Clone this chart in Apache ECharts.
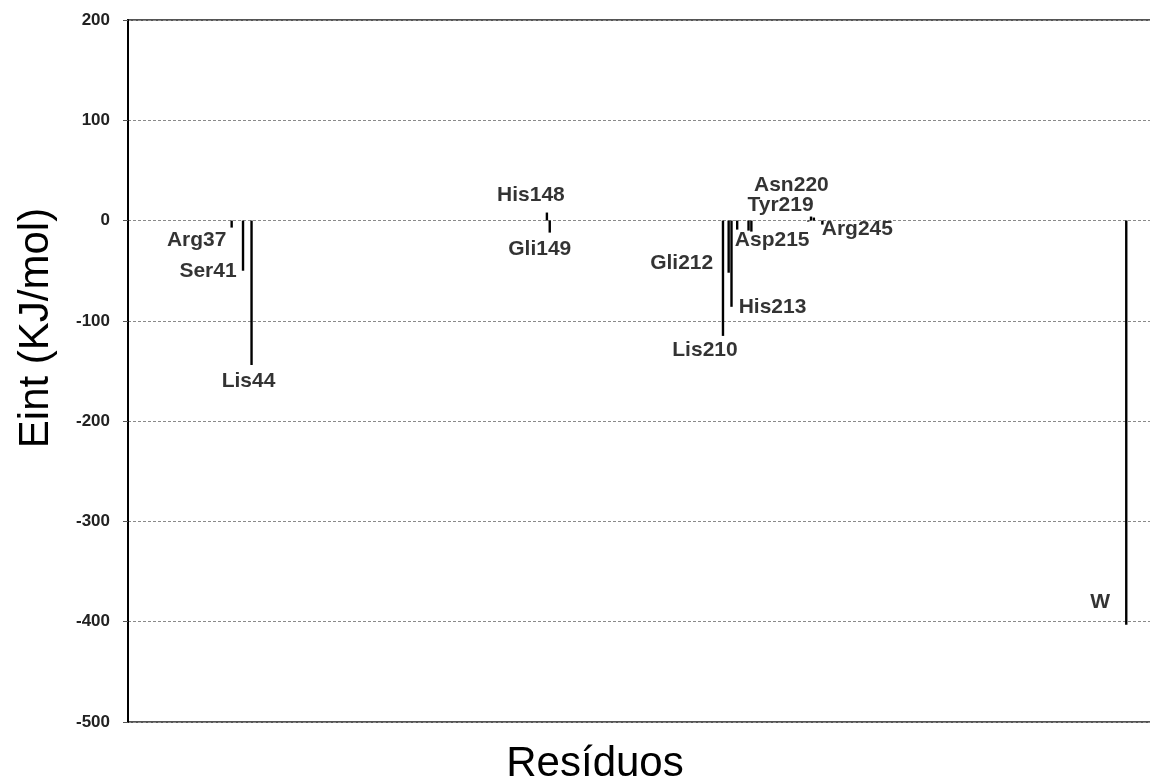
<!DOCTYPE html>
<html>
<head>
<meta charset="utf-8">
<script src="https://cdn.jsdelivr.net/npm/echarts@6/dist/echarts.min.js"></script>
<style>
html,body{margin:0;padding:0;background:#fff;overflow:hidden;}
#chart{width:1200px;height:782px;}
</style>
</head>
<body>
<div id="chart"></div>
<script>
// ---- data ----
const residueLabels = ['Arg37','Ser41','Lis44','His148','Gli149','Lis210','Gli212','His213','Asp215','Tyr219','Asn220','Arg245','W'];
const residuePositions = [37, 41, 44, 148, 149, 210, 212, 213, 215, 219, 220, 245, 352];
const residueEnergies = [-7, -50, -144, 8, -12, -115, -52, -86, -9, -10, -11, -4, -403];
const minorPositions = [240, 241, 242];
const minorEnergies = [-1, 4, 3];
const categoryCount = 365;
const yTicks = [200, 100, 0, -100, -200, -300, -400, -500];

// ---- styles (label offsets relative to bar tips) ----
const labelOffsets = [
  [-35, 13], [-35, 0], [-3, 16], [-16, -17], [-10, 17], [-18, 14],
  [-47, -10], [41, 0], [35, 11], [32, -25], [40, -46], [35, 5], [-26, -23]
];

const categories = [];
for (let i = 1; i <= categoryCount; i++) categories.push(i === 352 ? 'W' : String(i));
const barData = new Array(categoryCount).fill(null);
residuePositions.forEach((p, i) => { barData[p - 1] = residueEnergies[i]; });
minorPositions.forEach((p, i) => { barData[p - 1] = minorEnergies[i]; });

const labelData = residuePositions.map((p, i) => ({
  value: [p - 1, residueEnergies[i]],
  label: {
    show: true,
    position: 'inside',
    offset: labelOffsets[i],
    formatter: residueLabels[i],
    fontFamily: 'Liberation Sans, Arial, sans-serif',
    fontWeight: 'bold',
    fontSize: 21,
    color: '#000'
  }
}));

const catW = 2.84;
const chart = echarts.init(document.getElementById('chart'), null, {renderer: 'canvas'});
chart.setOption({
  animation: false,
  backgroundColor: '#fff',
  grid: {
    left: 128, top: 20, height: 702, width: categoryCount * catW,
    show: true, borderColor: '#555', borderWidth: 2, backgroundColor: 'transparent'
  },
  xAxis: {
    type: 'category',
    data: categories,
    boundaryGap: true,
    axisLine: {show: false},
    axisTick: {show: false},
    axisLabel: {show: false},
    splitLine: {show: false}
  },
  yAxis: {
    type: 'value',
    min: -500, max: 200, interval: 100,
    axisLine: {show: true, lineStyle: {color: '#000', width: 2}},
    axisTick: {show: true, length: 5, lineStyle: {color: '#555'}},
    axisLabel: {
      margin: 18,
      fontFamily: 'Liberation Sans, Arial, sans-serif',
      fontSize: 17, fontWeight: 'bold', color: '#222',
      formatter: v => yTicks.indexOf(v) >= 0 ? String(v) : ''
    },
    splitLine: {show: true, lineStyle: {color: '#8a8a8a', type: [3, 2], width: 1}}
  },
  graphic: [
    {
      type: 'text', x: 595, y: 764,
      style: {text: 'Resíduos', font: '42px "Liberation Sans", Arial, sans-serif', fill: '#000',
        textAlign: 'center', textVerticalAlign: 'middle'}
    },
    {
      type: 'text', x: 36, y: 328, rotation: Math.PI / 2,
      style: {text: 'Eint (KJ/mol)', font: '42px "Liberation Sans", Arial, sans-serif', fill: '#000',
        textAlign: 'center', textVerticalAlign: 'middle'}
    }
  ],
  series: [
    {
      type: 'bar',
      data: barData,
      barWidth: 2.4,
      itemStyle: {color: '#000'},
      silent: true
    },
    {
      type: 'scatter',
      data: labelData,
      symbolSize: 0,
      silent: true
    }
  ]
});
</script>
</body>
</html>
